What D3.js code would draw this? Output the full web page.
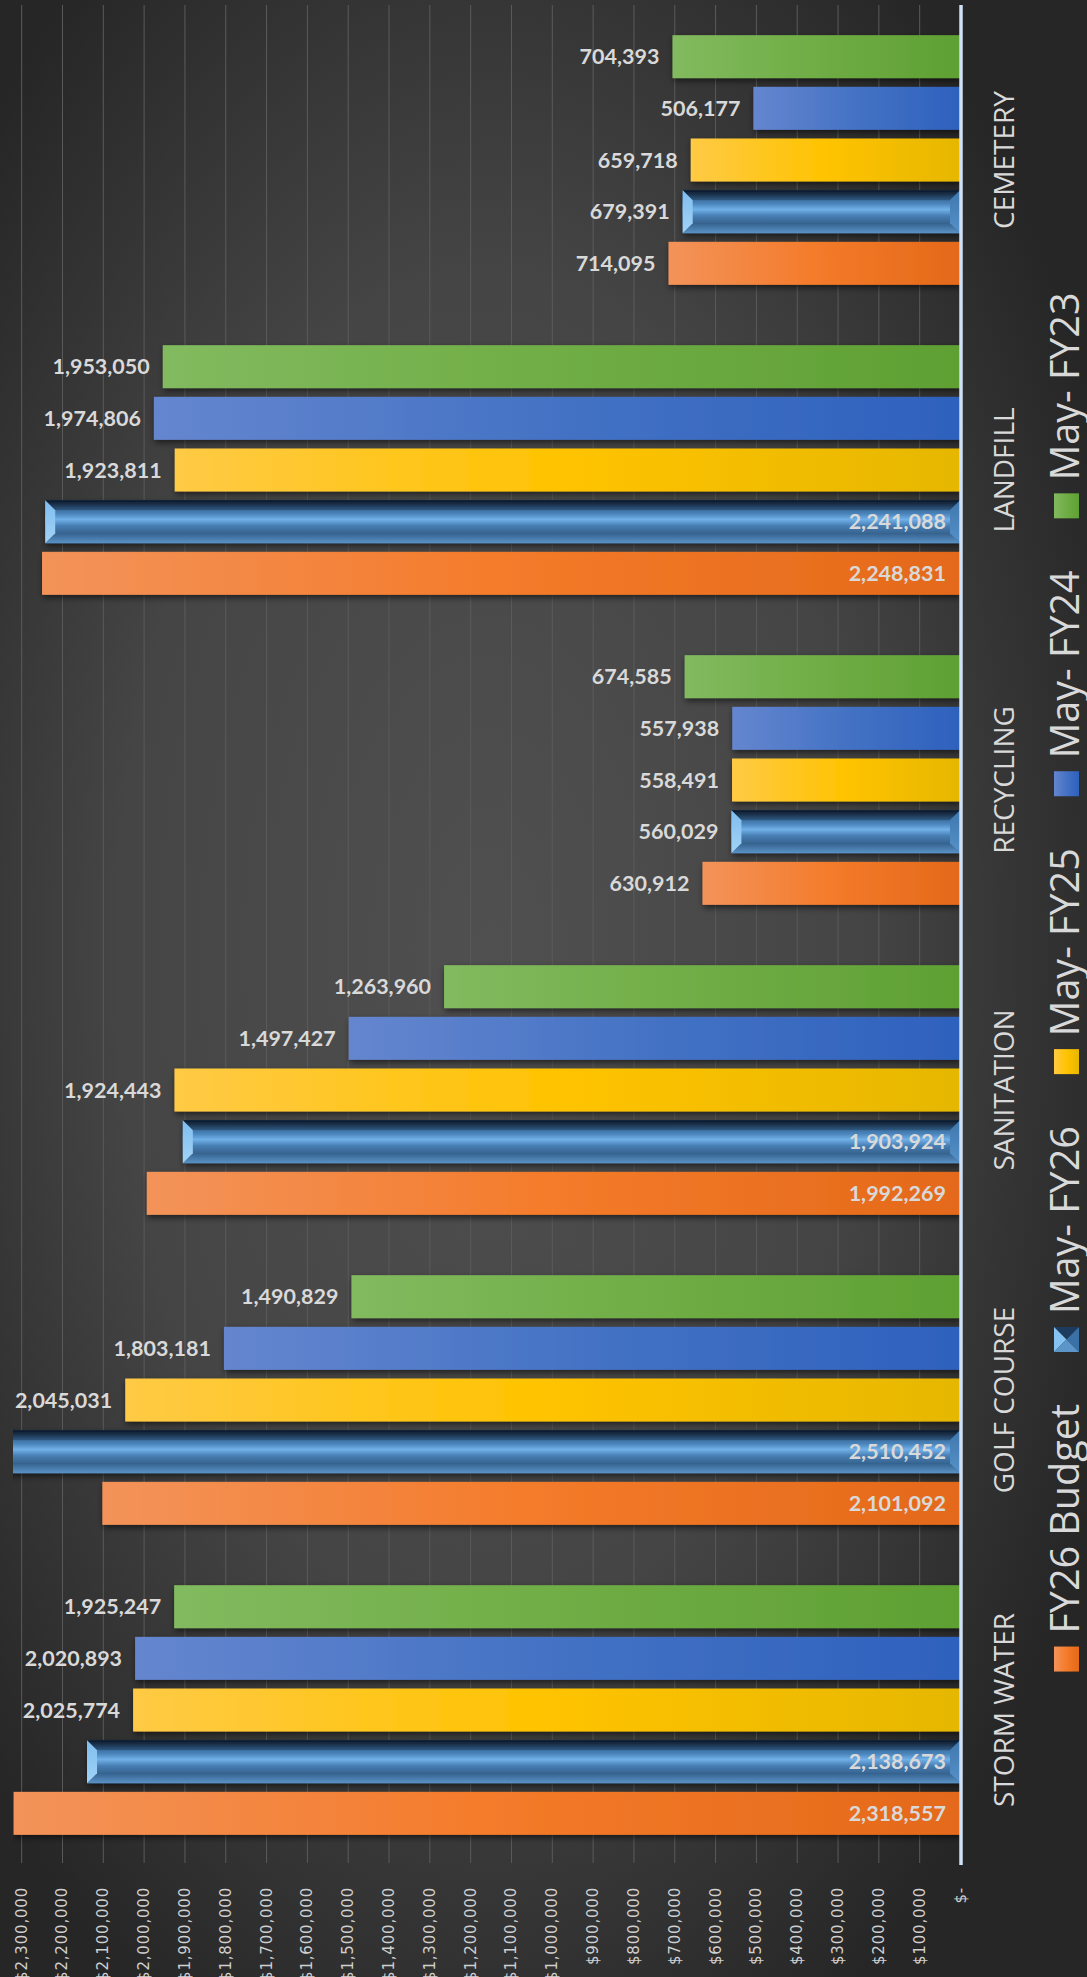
<!DOCTYPE html>
<html>
<head>
<meta charset="utf-8">
<script src="https://cdn.jsdelivr.net/npm/d3@7"></script>
<style>
  body { margin: 0; background: #2b2b2b; }
  svg { display: block; }
</style>
</head>
<body>
<svg id="chart"></svg>
<script>
"use strict";

// data
var categories = ['CEMETERY', 'LANDFILL', 'RECYCLING', 'SANITATION', 'GOLF COURSE', 'STORM WATER'];
var seriesNames = ['May- FY23', 'May- FY24', 'May- FY25', 'May- FY26', 'FY26 Budget'];
var mayFY23 = [704393, 1953050, 674585, 1263960, 1490829, 1925247];
var mayFY24 = [506177, 1974806, 557938, 1497427, 1803181, 2020893];
var mayFY25 = [659718, 1923811, 558491, 1924443, 2045031, 2025774];
var mayFY26 = [679391, 2241088, 560029, 1903924, 2510452, 2138673];
var budgetFY26 = [714095, 2248831, 630912, 1992269, 2101092, 2318557];
var tickValues = d3.range(0, 2300001, 100000);

var seriesValues = [mayFY23, mayFY24, mayFY25, mayFY26, budgetFY26];

var settings = {
    svg: { width: 1087, height: 1977 },
    plot: { left: 13, right: 960, top: 5, bottom: 1865, max: 2320000 },
    text: '#d9d9d9',
    grid: '#5b5b5b',
    axis: '#cfe2f3',
    bevel: 10,
    // flat bars: gradient from bar end (left) to base (right)
    fills: {
        'May- FY23': ['#82ba5f', '#6fad45', '#5fa033'],
        'May- FY24': ['#6586cf', '#4472c4', '#2e61bd'],
        'May- FY25': ['#ffca45', '#ffc300', '#e6b700'],
        'FY26 Budget': ['#f3935a', '#f47b2a', '#e4691a']
    },
    legend: { x: 1054, size: 25, gap: 13, itemGap: 52, center: 982, baseline: 1079 }
};

var svg = d3.select('#chart')
    .attr('width', settings.svg.width)
    .attr('height', settings.svg.height)
    .style('font-family', '"Open Sans", sans-serif');

var defs = svg.append('defs');

// background
var bg = defs.append('radialGradient').attr('id', 'bg')
    .attr('cx', '45%').attr('cy', '48%').attr('r', '62%');
bg.append('stop').attr('offset', '0%').attr('stop-color', '#505050');
bg.append('stop').attr('offset', '55%').attr('stop-color', '#454545');
bg.append('stop').attr('offset', '100%').attr('stop-color', '#262626');

svg.append('rect')
    .attr('width', settings.svg.width)
    .attr('height', settings.svg.height)
    .attr('fill', 'url(#bg)');

// gradients for the flat series
Object.keys(settings.fills).forEach((name, i) => {
    var g = defs.append('linearGradient').attr('id', 'fill-' + i)
        .attr('x1', 0).attr('x2', 1).attr('y1', 0).attr('y2', 0);
    settings.fills[name].forEach((c, j) => {
        g.append('stop').attr('offset', j * 50 + '%').attr('stop-color', c);
    });
});
var fillId = name => 'url(#fill-' + Object.keys(settings.fills).indexOf(name) + ')';

function vGrad(id, stops) {
    var g = defs.append('linearGradient').attr('id', id)
        .attr('x1', 0).attr('x2', 0).attr('y1', 0).attr('y2', 1);
    stops.forEach(s => g.append('stop').attr('offset', s[0]).attr('stop-color', s[1]));
}
vGrad('bev-top', [[0, '#0a1624'], [1, '#2f5982']]);
vGrad('bev-bottom', [[0, '#35628e'], [1, '#5a92c6']]);
vGrad('bev-face', [[0, '#284d75'], [0.3, '#4780b6'], [0.45, '#70b0e8'], [0.6, '#477db2'], [1, '#234364']]);
vGrad('bev-left', [[0, '#7fbdef'], [1, '#a2d3f7']]);
vGrad('bev-right', [[0, '#3f77ad'], [1, '#5591c8']]);

var shadow = defs.append('filter').attr('id', 'shadow')
    .attr('x', '-5%').attr('y', '-30%').attr('width', '110%').attr('height', '170%');
shadow.append('feDropShadow')
    .attr('dx', 1).attr('dy', 3).attr('stdDeviation', 3)
    .attr('flood-color', '#000').attr('flood-opacity', 0.55);

defs.append('clipPath').attr('id', 'plot-clip')
    .append('rect')
    .attr('x', settings.plot.left)
    .attr('y', 0)
    .attr('width', settings.plot.right - settings.plot.left)
    .attr('height', settings.svg.height);

// scales
var x = d3.scaleLinear()
    .domain([0, settings.plot.max])
    .range([settings.plot.right, settings.plot.left]);

var y0 = d3.scaleBand()
    .domain(categories)
    .range([settings.plot.top, settings.plot.bottom])
    .paddingInner(0.1667)
    .paddingOuter(0.0833);

var y1 = d3.scaleBand()
    .domain(seriesNames)
    .range([0, y0.bandwidth()])
    .paddingInner(0.168)
    .paddingOuter(0.084);

// gridlines
svg.append('g')
    .attr('class', 'grid')
    .selectAll('line')
    .data(tickValues.filter(v => v > 0))
    .enter()
    .append('line')
    .attr('x1', d => x(d) + 0.5)
    .attr('x2', d => x(d) + 0.5)
    .attr('y1', settings.plot.top)
    .attr('y2', settings.plot.bottom - 2)
    .attr('stroke', settings.grid)
    .attr('stroke-width', 1);

// value axis labels (rotated)
svg.append('g')
    .attr('class', 'x-labels')
    .selectAll('text')
    .data(tickValues)
    .enter()
    .append('text')
    .attr('transform', d => `translate(${x(d) + 5.5},${settings.plot.bottom + 22}) rotate(-90)`)
    .attr('text-anchor', 'end')
    .style('font-family', '"DejaVu Sans", sans-serif')
    .style('font-size', '15px')
    .style('letter-spacing', '0.8px')
    .attr('fill', '#cfcfcf')
    .text(d => d === 0 ? '$-' : '$' + d3.format(',')(d));

// bars
var points = [];
categories.forEach((cat, ci) => {
    seriesNames.forEach((s, si) => {
        points.push({ cat: cat, series: s, value: seriesValues[si][ci] });
    });
});

var bars = svg.append('g').attr('clip-path', 'url(#plot-clip)');

var flat = points.filter(d => d.series !== 'May- FY26');
bars.append('g')
    .attr('class', 'bars-flat')
    .selectAll('rect')
    .data(flat)
    .enter()
    .append('rect')
    .attr('x', d => x(d.value))
    .attr('y', d => y0(d.cat) + y1(d.series))
    .attr('width', d => x(0) - x(d.value))
    .attr('height', y1.bandwidth())
    .attr('fill', d => fillId(d.series))
    .attr('filter', 'url(#shadow)');

// bevelled series
var bev = settings.bevel;
var bevelBars = bars.append('g')
    .attr('class', 'bars-bevel')
    .selectAll('g')
    .data(points.filter(d => d.series === 'May- FY26'))
    .enter()
    .append('g')
    .attr('filter', 'url(#shadow)');

function bevelPart(sel, fill, pts) {
    sel.append('polygon')
        .attr('points', d => pts(d).map(p => p.join(',')).join(' '))
        .attr('fill', fill);
}
var geo = d => {
    var xa = x(d.value), xb = x(0);
    var ya = y0(d.cat) + y1(d.series), yb = ya + y1.bandwidth();
    return { xa: xa, xb: xb, ya: ya, yb: yb };
};
bevelBars.append('rect')
    .attr('x', d => geo(d).xa)
    .attr('y', d => geo(d).ya)
    .attr('width', d => geo(d).xb - geo(d).xa)
    .attr('height', y1.bandwidth())
    .attr('fill', 'url(#bev-face)');
bevelPart(bevelBars, 'url(#bev-top)', d => {
    var g = geo(d);
    return [[g.xa, g.ya], [g.xb, g.ya], [g.xb - bev, g.ya + bev], [g.xa + bev, g.ya + bev]];
});
bevelPart(bevelBars, 'url(#bev-bottom)', d => {
    var g = geo(d);
    return [[g.xa, g.yb], [g.xb, g.yb], [g.xb - bev, g.yb - bev], [g.xa + bev, g.yb - bev]];
});
bevelPart(bevelBars, 'url(#bev-left)', d => {
    var g = geo(d);
    return [[g.xa, g.ya], [g.xa + bev, g.ya + bev], [g.xa + bev, g.yb - bev], [g.xa, g.yb]];
});
bevelPart(bevelBars, 'url(#bev-right)', d => {
    var g = geo(d);
    return [[g.xb, g.ya], [g.xb - bev, g.ya + bev], [g.xb - bev, g.yb - bev], [g.xb, g.yb]];
});

// category axis line
svg.append('line')
    .attr('x1', settings.plot.right + 1)
    .attr('x2', settings.plot.right + 1)
    .attr('y1', settings.plot.top)
    .attr('y2', settings.plot.bottom)
    .attr('stroke', settings.axis)
    .attr('stroke-width', 3.5);

// data labels: the long FY26 bars carry their label inside, at the base
var inside = d => (d.series === 'May- FY26' || d.series === 'FY26 Budget') && d.value > 1500000;
svg.append('g')
    .attr('class', 'data-labels')
    .selectAll('text')
    .data(points)
    .enter()
    .append('text')
    .attr('x', d => inside(d) ? x(0) - 14 : x(d.value) - 13)
    .attr('y', d => y0(d.cat) + y1(d.series) + y1.bandwidth() / 2)
    .attr('dy', '0.36em')
    .attr('text-anchor', 'end')
    .style('font-family', 'Lato, "Open Sans", sans-serif')
    .style('font-weight', 'bold')
    .style('font-size', '21.5px')
    .attr('fill', settings.text)
    .text(d => d3.format(',')(d.value));

// category labels (rotated)
svg.append('g')
    .attr('class', 'y-labels')
    .selectAll('text')
    .data(categories)
    .enter()
    .append('text')
    .attr('transform', d => `translate(1014,${y0(d) + y0.bandwidth() / 2}) rotate(-90)`)
    .attr('text-anchor', 'middle')
    .style('font-size', '28px')
    .attr('fill', settings.text)
    .text(d => d);

// legend, bottom to top, rotated
var legend = svg.append('g').attr('class', 'legend');
var items = seriesNames.slice().reverse();
var L = settings.legend;
var entries = items.map(name => {
    var g = legend.append('g');
    var t = g.append('text')
        .attr('text-anchor', 'start')
        .style('font-size', '39.5px')
        .attr('fill', settings.text)
        .text(name);
    return { name: name, g: g, t: t, len: t.node().getComputedTextLength() };
});
var total = d3.sum(entries, e => L.size + L.gap + e.len) + L.itemGap * (entries.length - 1);
var cursor = L.center + total / 2;
entries.forEach(e => {
    var sqBottom = cursor;
    var sqTop = sqBottom - L.size;
    if (e.name === 'May- FY26') {
        var cx = L.x + L.size / 2, cy = sqTop + L.size / 2, s = L.size;
        var tri = [
            [[L.x, sqTop], [L.x + s, sqTop], [cx, cy], '#1d3b5e'],
            [[L.x, sqTop], [cx, cy], [L.x, sqTop + s], '#86c2f1'],
            [[L.x + s, sqTop], [cx, cy], [L.x + s, sqTop + s], '#3b70a6'],
            [[L.x, sqTop + s], [cx, cy], [L.x + s, sqTop + s], '#5b95ca']
        ];
        tri.forEach(p => e.g.append('polygon')
            .attr('points', p.slice(0, 3).map(q => q.join(',')).join(' '))
            .attr('fill', p[3]));
    } else {
        e.g.insert('rect', 'text')
            .attr('x', L.x)
            .attr('y', sqTop)
            .attr('width', L.size)
            .attr('height', L.size)
            .attr('fill', fillId(e.name));
    }
    e.t.attr('transform', `translate(${L.baseline},${sqTop - L.gap}) rotate(-90)`);
    cursor = sqTop - L.gap - e.len - L.itemGap;
});
</script>
</body>
</html>
